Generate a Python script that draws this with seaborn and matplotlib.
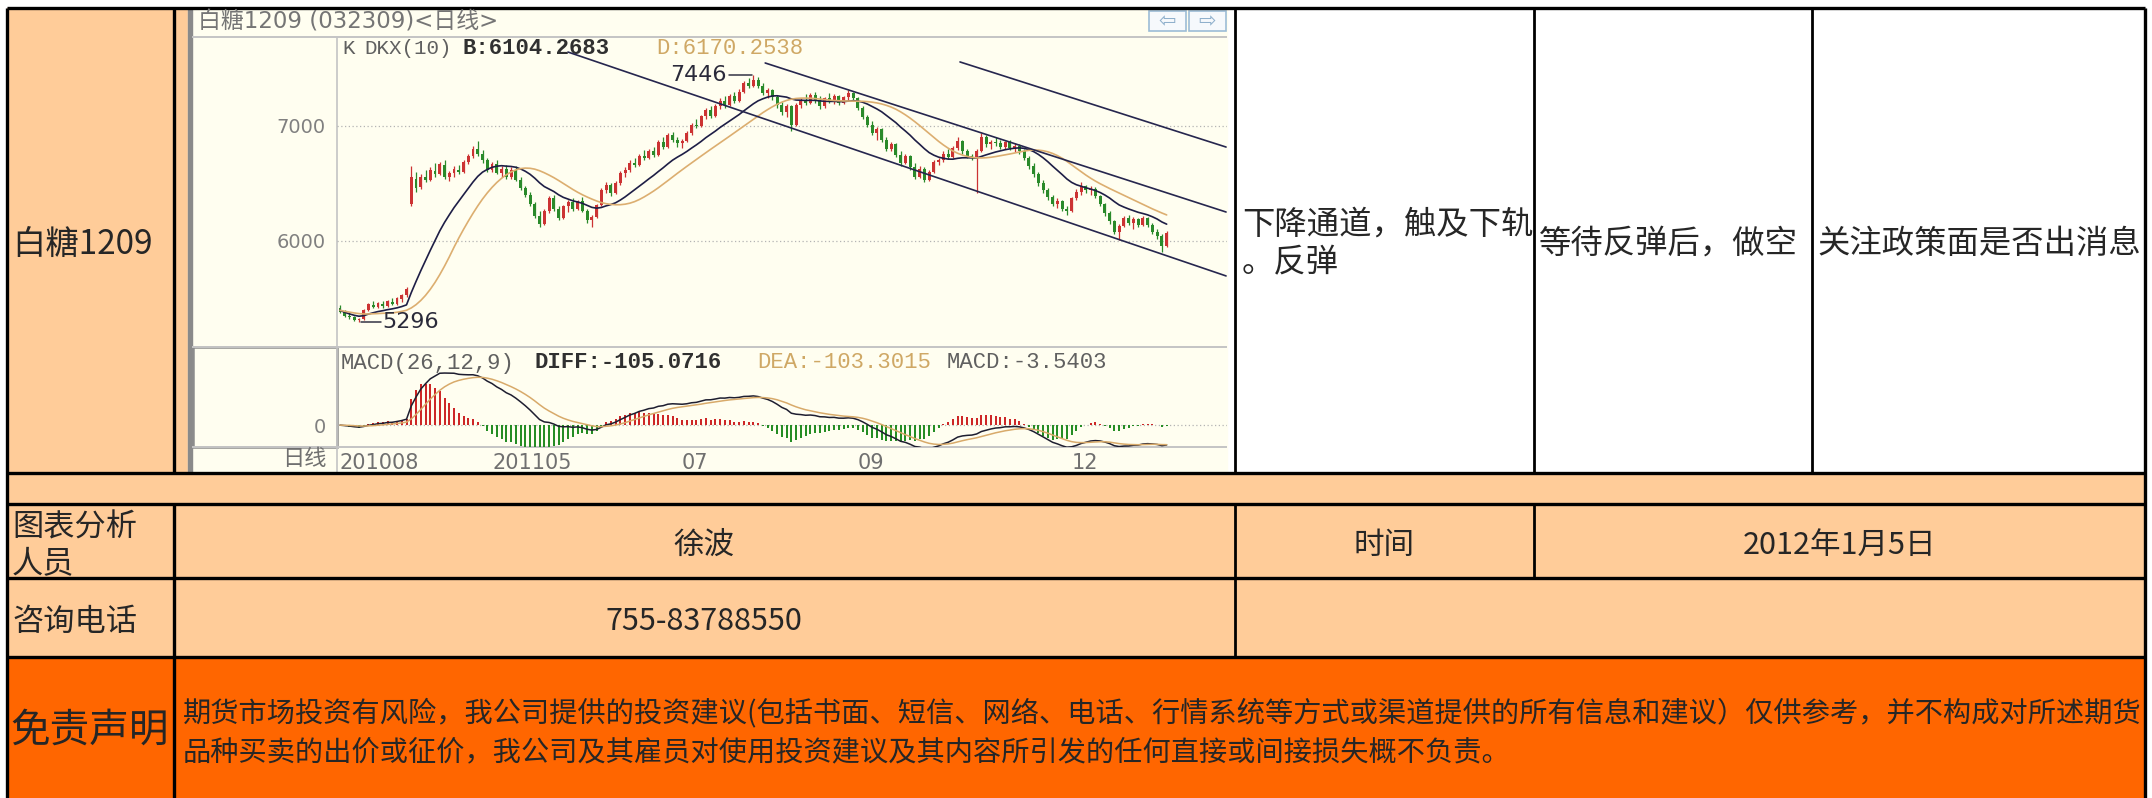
import numpy as np
import pandas as pd
import matplotlib
matplotlib.use('Agg')
import matplotlib.pyplot as plt
import seaborn as sns
from matplotlib.patches import Rectangle

W, H = 2152, 798

# daily candles of SR1209
opens = [
    5420, 5385, 5350, 5335, 5315, 5320, 5400, 5445, 5430, 5455, 5435, 5470, 5450, 5495, 5530,
    6320, 6540, 6470, 6560, 6530, 6610, 6580, 6660, 6560, 6590, 6620, 6600, 6690, 6740, 6800,
    6760, 6700, 6620, 6670, 6590, 6630, 6560, 6620, 6530, 6460, 6400, 6320, 6220, 6150, 6260,
    6370, 6280, 6200, 6300, 6340, 6280, 6350, 6260, 6180, 6210, 6310, 6440, 6490, 6420, 6500,
    6590, 6620, 6680, 6660, 6740, 6720, 6780, 6750, 6860, 6820, 6920, 6880, 6850, 6870, 6940,
    7010, 7000, 7090, 7140, 7090, 7170, 7220, 7180, 7260, 7220, 7300, 7370, 7350, 7400, 7350,
    7290, 7310, 7250, 7180, 7120, 7170, 7010, 7180, 7220, 7200, 7270, 7220, 7170, 7240, 7210,
    7260, 7200, 7250, 7290, 7240, 7160, 7080, 7010, 6940, 6970, 6880, 6800, 6840, 6750, 6680,
    6740, 6640, 6560, 6630, 6530, 6600, 6690, 6700, 6760, 6730, 6810, 6870, 6780, 6740, 6720,
    6780, 6900, 6840, 6860, 6850, 6820, 6860, 6810, 6830, 6780, 6720, 6650, 6580, 6500, 6440,
    6380, 6320, 6350, 6280, 6260, 6370, 6430, 6480, 6440, 6450, 6390, 6320, 6240, 6170, 6080,
    6130, 6200, 6160, 6190, 6140, 6200, 6140, 6080, 6040, 5960]
highs = [
    5440, 5400, 5370, 5345, 5330, 5410, 5460, 5480, 5470, 5475, 5490, 5500, 5510, 5540, 5600,
    6650, 6600, 6580, 6620, 6640, 6680, 6690, 6700, 6610, 6650, 6660, 6700, 6760, 6830, 6870,
    6790, 6720, 6690, 6700, 6650, 6660, 6640, 6650, 6560, 6480, 6430, 6340, 6260, 6280, 6390,
    6400, 6300, 6310, 6360, 6370, 6360, 6380, 6280, 6230, 6320, 6460, 6510, 6500, 6520, 6610,
    6640, 6700, 6720, 6760, 6790, 6800, 6820, 6880, 6900, 6940, 6950, 6900, 6890, 6960, 7030,
    7060, 7100, 7160, 7170, 7190, 7240, 7260, 7280, 7300, 7320, 7390, 7420, 7446, 7430, 7370,
    7330, 7320, 7270, 7210, 7190, 7180, 7200, 7240, 7280, 7290, 7300, 7260, 7250, 7290, 7280,
    7270, 7260, 7310, 7300, 7250, 7170, 7100, 7040, 6990, 6980, 6900, 6860, 6850, 6780, 6760,
    6750, 6680, 6650, 6640, 6620, 6700, 6720, 6780, 6800, 6830, 6900, 6880, 6800, 6760, 6800,
    6940, 6920, 6880, 6900, 6880, 6870, 6880, 6850, 6840, 6800, 6740, 6680, 6600, 6530, 6460,
    6400, 6370, 6360, 6300, 6380, 6450, 6510, 6490, 6480, 6470, 6400, 6330, 6260, 6180, 6150,
    6220, 6230, 6210, 6200, 6220, 6210, 6160, 6100, 6060, 6090]
lows = [
    5370, 5340, 5320, 5300, 5296, 5310, 5390, 5420, 5415, 5420, 5425, 5440, 5440, 5470, 5510,
    6300, 6430, 6450, 6510, 6520, 6560, 6570, 6540, 6520, 6560, 6580, 6590, 6670, 6720, 6740,
    6680, 6600, 6600, 6580, 6560, 6540, 6540, 6520, 6440, 6380, 6300, 6200, 6120, 6140, 6240,
    6260, 6180, 6190, 6250, 6260, 6270, 6250, 6160, 6120, 6200, 6300, 6420, 6390, 6410, 6490,
    6560, 6600, 6640, 6650, 6700, 6710, 6730, 6740, 6800, 6810, 6860, 6820, 6810, 6860, 6920,
    6980, 6990, 7060, 7070, 7080, 7150, 7160, 7170, 7200, 7210, 7290, 7330, 7340, 7330, 7270,
    7240, 7230, 7160, 7100, 7080, 6960, 7000, 7160, 7180, 7190, 7200, 7150, 7160, 7200, 7190,
    7180, 7190, 7220, 7220, 7140, 7060, 6990, 6920, 6880, 6860, 6780, 6780, 6730, 6650, 6670,
    6620, 6540, 6550, 6510, 6520, 6590, 6660, 6690, 6710, 6720, 6790, 6760, 6720, 6700, 6420,
    6770, 6820, 6800, 6830, 6800, 6800, 6790, 6770, 6760, 6700, 6630, 6560, 6480, 6420, 6360,
    6300, 6290, 6260, 6230, 6250, 6360, 6400, 6420, 6400, 6370, 6300, 6220, 6150, 6060, 6010,
    6120, 6140, 6100, 6120, 6130, 6120, 6060, 6020, 5905, 5950]
closes = [
    5385, 5350, 5335, 5315, 5320, 5400, 5450, 5430, 5460, 5435, 5480, 5450, 5500, 5530, 5580,
    6560, 6460, 6560, 6530, 6620, 6580, 6670, 6560, 6590, 6630, 6600, 6690, 6740, 6800, 6760,
    6700, 6620, 6670, 6590, 6630, 6560, 6620, 6530, 6460, 6400, 6320, 6220, 6150, 6260, 6370,
    6280, 6200, 6300, 6340, 6280, 6350, 6260, 6180, 6210, 6310, 6440, 6490, 6420, 6500, 6590,
    6620, 6680, 6660, 6740, 6720, 6780, 6750, 6860, 6820, 6920, 6880, 6850, 6870, 6940, 7010,
    7000, 7090, 7140, 7090, 7170, 7220, 7180, 7260, 7220, 7300, 7370, 7350, 7400, 7350, 7290,
    7310, 7250, 7180, 7120, 7170, 7010, 7180, 7220, 7200, 7270, 7220, 7170, 7240, 7210, 7260,
    7200, 7250, 7290, 7240, 7160, 7080, 7010, 6940, 6970, 6880, 6800, 6840, 6750, 6680, 6740,
    6640, 6560, 6630, 6530, 6600, 6690, 6700, 6760, 6730, 6810, 6870, 6780, 6740, 6720, 6780,
    6900, 6840, 6860, 6850, 6820, 6860, 6810, 6830, 6780, 6720, 6650, 6580, 6500, 6440, 6380,
    6320, 6350, 6280, 6260, 6370, 6430, 6480, 6440, 6450, 6390, 6320, 6240, 6170, 6080, 6130,
    6200, 6160, 6190, 6140, 6200, 6140, 6080, 6040, 5960, 6070]

month_ticks = [0, 32, 72, 109, 154]
month_labels = ['201008', '201105', '07', '09', '12']
price_ticks = [6000, 7000]

# hand-drawn channel lines: (candle index, price) at both ends
chan_a_x, chan_a_y = [48, 186.5], [7643, 5696]
chan_b_x, chan_b_y = [89.5, 186.5], [7548, 6252]
chan_c_x, chan_c_y = [130.5, 186.5], [7557, 6817]

name = '白糖1209'
view = '下降通道，触及下轨\n。反弹'
plan = '等待反弹后，做空'
watch = '关注政策面是否出消息'
analyst = '徐波'
phone = '755-83788550'
date_str = '2012年1月5日'
disclaimer = ('期货市场投资有风险，我公司提供的投资建议(包括书面、短信、网络、电话、行情系统等方式或渠道提供的所有信息和建议）仅供参考，并不构成对所述期货\n'
              '品种买卖的出价或征价，我公司及其雇员对使用投资建议及其内容所引发的任何直接或间接损失概不负责。')

PEACH = '#ffcc99'
ORANGE = '#ff6600'
CREAM = '#fffef0'
UP = '#cc3333'
DOWN = '#2a8a2a'
MONO = ['Liberation Mono', 'Noto Sans CJK SC']
SANS = ['DejaVu Sans', 'Noto Sans CJK SC']


def dkx_line(o, h, l, c, n=20):
    mid = (3 * c + l + o + h) / 6
    out = np.empty(len(mid))
    w = np.arange(n, 0, -1, dtype=float)
    for t in range(len(mid)):
        vals = mid[t::-1][:n]
        ww = w[:len(vals)]
        out[t] = (ww * vals).sum() / ww.sum()
    return out


def draw_table(tab):
    tab.add_patch(Rectangle((7, 8), 167, 465, color=PEACH))
    tab.add_patch(Rectangle((174, 8), 1061, 465, color=PEACH))
    tab.add_patch(Rectangle((7, 473), 2138, 184, color=PEACH))
    tab.add_patch(Rectangle((7, 657), 2138, 141, color=ORANGE))
    # embedded chart picture
    tab.add_patch(Rectangle((1227, 8), 8, 465, color='white'))
    tab.add_patch(Rectangle((188, 8), 1039, 464, color=CREAM))
    tab.add_patch(Rectangle((188, 8), 4, 464, color='#8a8a8a'))
    tab.hlines([37, 347, 447], 192, 1227, colors='#c4c4c4', lw=1.4)
    tab.vlines(337, 37, 472, colors='#c4c4c4', lw=1.2)
    tab.add_patch(Rectangle((193, 347), 144, 100, fill=False, ec='#8c8c8c', lw=1.8))
    for bx, arrow in [(1149, '⇦'), (1189, '⇨')]:
        tab.add_patch(Rectangle((bx, 11), 37, 20, fc='#f6f9fc', ec='#9cbcd6', lw=1.2))
        tab.text(bx + 18.5, 21, arrow, ha='center', va='center', color='#8fb0cc',
                 fontsize=15, family='DejaVu Sans')

    tab.text(198, 22, '白糖1209 (032309)<日线>', ha='left', va='center', color='#757575',
             fontsize=16.5, family=SANS)
    hdr = dict(fontsize=15, family=MONO, va='center')
    tab.text(342, 49, 'K', color='#606060', **hdr)
    tab.text(364, 49, 'DKX(10)', color='#606060', **hdr)
    tab.text(463, 49, 'B:6104.2683', color='#303030', weight='bold', fontsize=16,
             family=MONO, va='center')
    tab.text(656, 49, 'D:6170.2538', color='#cfa865', fontsize=16, family=MONO, va='center')
    tab.text(341, 363, 'MACD(26,12,9)', color='#606060', fontsize=16, family=MONO, va='center')
    tab.text(535, 363, 'DIFF:-105.0716', color='#303030', weight='bold', fontsize=16,
             family=MONO, va='center')
    tab.text(757, 363, 'DEA:-103.3015', color='#cfa865', fontsize=16, family=MONO, va='center')
    tab.text(947, 363, 'MACD:-3.5403', color='#606060', fontsize=16, family=MONO, va='center')
    tab.text(327, 459, '日线', ha='right', va='center', color='#707070', fontsize=16, family=SANS)

    # grid borders
    tab.hlines([8, 473, 504, 578, 657], 7, 2145, colors='black', lw=2.4)
    tab.vlines([7, 2145], 8, 798, colors='black', lw=2.4)
    tab.vlines(174, 8, 473, colors='black', lw=2.4)
    tab.vlines(174, 504, 798, colors='black', lw=2.4)
    tab.vlines(1235, 8, 473, colors='black', lw=2.0)
    tab.vlines(1235, 504, 657, colors='black', lw=2.0)
    tab.vlines(1534, 8, 473, colors='black', lw=2.0)
    tab.vlines(1534, 504, 578, colors='black', lw=2.0)
    tab.vlines(1812, 8, 473, colors='black', lw=2.0)

    tab.text(12, 244, name, va='center', fontsize=24)
    tab.text(1242, 244, view, va='center', fontsize=23.3, linespacing=1.25)
    tab.text(1539, 244, plan, va='center', fontsize=23.3)
    tab.text(1817, 244, watch, va='center', fontsize=23.3)
    tab.text(12, 546, '图表分析\n人员', va='center', fontsize=22.5, linespacing=1.2)
    tab.text(704, 545, analyst, ha='center', va='center', fontsize=22)
    tab.text(1384, 545, '时间', ha='center', va='center', fontsize=22)
    tab.text(1840, 545, date_str, ha='center', va='center', fontsize=22)
    tab.text(12, 622, '咨询电话', va='center', fontsize=22.5)
    tab.text(704, 622, phone, ha='center', va='center', fontsize=22)
    tab.text(10, 731, '免责声明', va='center', fontsize=28.5)
    tab.text(183, 733, disclaimer, va='center', fontsize=20.3, linespacing=1.4)


def draw_kline(ax, o, h, l, c, idx):
    colors = np.where(c >= o, UP, DOWN)
    ax.vlines(idx, l, h, colors=colors, lw=0.9)
    body = np.maximum(np.abs(c - o), 8)
    ax.bar(idx, body, bottom=np.minimum(o, c), width=0.62, color=colors, linewidth=0)

    dkx = dkx_line(o, h, l, c)
    madkx = pd.Series(dkx).rolling(10, min_periods=1).mean().values
    sns.lineplot(x=idx, y=dkx, ax=ax, color='#1e1e46', lw=1.2)
    sns.lineplot(x=idx, y=madkx, ax=ax, color='#dcae70', lw=1.2)

    for xs, ys in [(chan_a_x, chan_a_y), (chan_b_x, chan_b_y), (chan_c_x, chan_c_y)]:
        ax.plot(xs, ys, color='#26264e', lw=1.2)

    pk = int(np.argmax(h))
    ax.plot([pk - 5.2, pk - 0.3], [h[pk], h[pk]], color='#333344', lw=1.1)
    ax.text(pk - 5.6, h[pk], f'{h[pk]}', ha='right', va='center', fontsize=16,
            color='#2a2a3a', family='DejaVu Sans')
    lo = int(np.argmin(l))
    ax.plot([lo + 0.5, lo + 4.6], [l[lo], l[lo]], color='#333344', lw=1.1)
    ax.text(lo + 4.9, l[lo], f'{l[lo]}', ha='left', va='center', fontsize=16,
            color='#2a2a3a', family='DejaVu Sans')

    ax.set_xlim(-0.63, 186.7)
    ax.set_ylim(5078, 7774)
    ax.set_yticks(price_ticks)
    ax.set_yticklabels([str(p) for p in price_ticks], family='DejaVu Sans')
    ax.set_xticks([])
    ax.tick_params(axis='y', length=0, pad=8, labelsize=14, labelcolor='#808080')
    ax.grid(axis='y', linestyle=(0, (1, 2)), color='#b4b4b4', lw=0.9)
    ax.grid(axis='x', visible=False)


def draw_macd(ax, c, idx):
    cs = pd.Series(c)
    diff = cs.ewm(span=12, adjust=False).mean() - cs.ewm(span=26, adjust=False).mean()
    dea = diff.ewm(span=9, adjust=False).mean()
    macd = 2 * (diff - dea)
    ax.vlines(idx, 0, macd, colors=np.where(macd >= 0, '#cc2222', '#1f8a1f'), lw=1.4)
    sns.lineplot(x=idx, y=diff.values, ax=ax, color='#1e1e30', lw=1.1)
    sns.lineplot(x=idx, y=dea.values, ax=ax, color='#d8aa6a', lw=1.1)
    top = max(diff.max(), dea.max(), macd.max())
    ax.set_ylim(-0.42 * top, 1.5 * top)
    ax.set_xlim(-0.63, 186.7)
    ax.set_yticks([0])
    ax.set_yticklabels(['0'], family='DejaVu Sans')
    ax.set_xticks(month_ticks)
    ax.set_xticklabels(month_labels, ha='left', family='DejaVu Sans')
    ax.tick_params(axis='y', length=0, pad=8, labelsize=14, labelcolor='#808080')
    ax.tick_params(axis='x', length=0, pad=4, labelsize=15, labelcolor='#707070')
    ax.grid(axis='y', linestyle=(0, (1, 2)), color='#b4b4b4', lw=0.9)
    ax.grid(axis='x', visible=False)


def main():
    sns.set_style('white')
    plt.rcParams['font.family'] = ['Noto Sans CJK SC', 'DejaVu Sans']
    plt.rcParams['axes.unicode_minus'] = False

    o, h, l, c = (np.array(v, dtype=float) for v in (opens, highs, lows, closes))
    h_int = np.array(highs)
    l_int = np.array(lows)
    idx = np.arange(len(closes))

    fig = plt.figure(figsize=(W / 100, H / 100), dpi=100, facecolor='white')
    tab = fig.add_axes([0, 0, 1, 1])
    tab.set_xlim(0, W)
    tab.set_ylim(H, 0)
    tab.axis('off')
    draw_table(tab)

    ax_k = fig.add_axes([337 / W, 1 - 347 / H, 890 / W, 310 / H])
    ax_m = fig.add_axes([337 / W, 1 - 447 / H, 890 / W, 100 / H])
    for ax in (ax_k, ax_m):
        ax.set_facecolor('none')
        for s in ax.spines.values():
            s.set_visible(False)

    draw_kline(ax_k, o, h_int, l_int, c, idx)
    draw_macd(ax_m, c, idx)
    for ax in (ax_k, ax_m):
        ax.set_xlabel('')
        ax.set_ylabel('')

    fig.savefig('out.png', dpi=100, facecolor='white')


if __name__ == "__main__":
    main()
